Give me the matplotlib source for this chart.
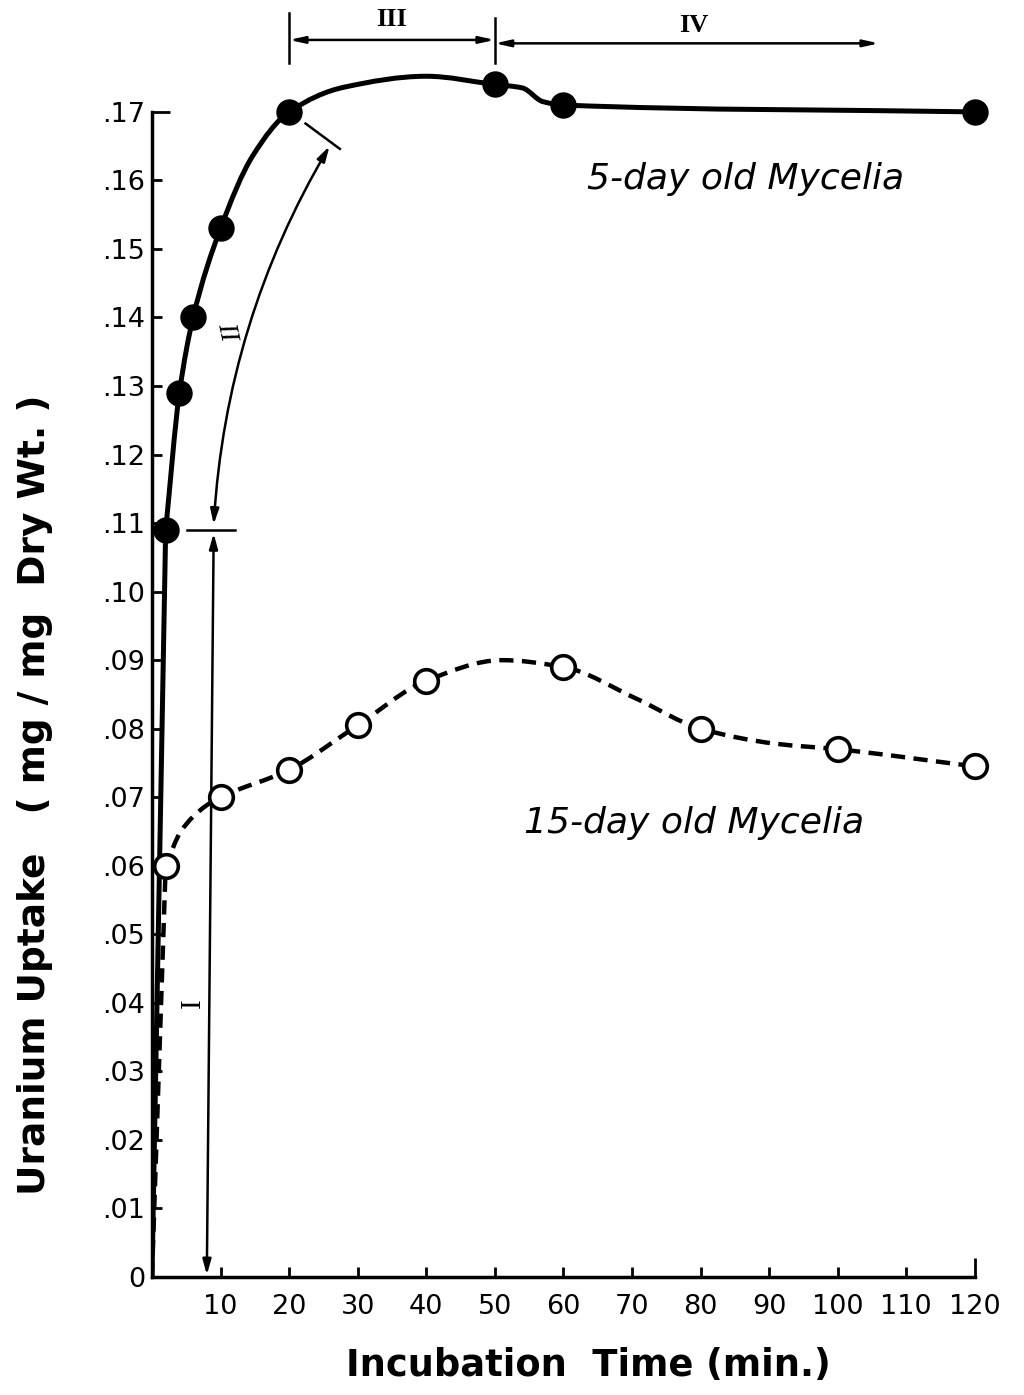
import numpy as np
import matplotlib.pyplot as plt
from matplotlib.path import Path
from matplotlib.patches import PathPatch

# Uranium uptake (mg / mg dry wt.) against incubation time (min.)
t5 = [2, 4, 6, 10, 20, 50, 60, 120]
u5 = [0.109, 0.129, 0.140, 0.153, 0.170, 0.174, 0.171, 0.170]
t15 = [2, 10, 20, 30, 40, 60, 80, 100, 120]
u15 = [0.060, 0.070, 0.074, 0.0805, 0.087, 0.089, 0.080, 0.077, 0.0745]

guide5_t = [14.7, 28, 40, 54, 57]
guide5_u = [0.1636, 0.1736, 0.1752, 0.1735, 0.1715]
guide15_t = [4.2, 7.8, 51, 70.6, 91]
guide15_u = [0.0650, 0.0687, 0.0900, 0.0844, 0.0778]

xticks = [10, 20, 30, 40, 50, 60, 70, 80, 90, 100, 110, 120]
yticks = [0, .01, .02, .03, .04, .05, .06, .07, .08, .09, .10, .11, .12, .13, .14, .15, .16, .17]
ytick_labels = ['0', '.01', '.02', '.03', '.04', '.05', '.06', '.07', '.08', '.09',
                '.10', '.11', '.12', '.13', '.14', '.15', '.16', '.17']

plt.rcParams['font.family'] = 'DejaVu Sans'


def curve_path(t, u, gt, gu):
    # straight rise from the origin, then a smooth y(x) curve (pchip-style slopes)
    x = np.concatenate([t, gt]).astype(float)
    y = np.concatenate([u, gu]).astype(float)
    order = np.argsort(x)
    x, y = x[order], y[order]
    h = np.diff(x)
    d = np.diff(y) / h
    m = np.zeros_like(x)
    m[0], m[-1] = d[0], d[-1]
    for i in range(1, len(x) - 1):
        if d[i - 1] * d[i] > 0:
            w1 = 2 * h[i] + h[i - 1]
            w2 = h[i] + 2 * h[i - 1]
            m[i] = (w1 + w2) / (w1 / d[i - 1] + w2 / d[i])
    verts = [(0, 0), (x[0], y[0])]
    codes = [Path.MOVETO, Path.LINETO]
    for i in range(len(x) - 1):
        verts += [(x[i] + h[i] / 3, y[i] + m[i] * h[i] / 3),
                  (x[i + 1] - h[i] / 3, y[i + 1] - m[i + 1] * h[i] / 3),
                  (x[i + 1], y[i + 1])]
        codes += [Path.CURVE4] * 3
    return Path(verts, codes)


fig = plt.figure(figsize=(10.24, 13.95), dpi=100)
ax = fig.add_axes([0.1484, 0.0846, 0.8438, 0.9138])
ax.set_xlim(0, 126)
ax.set_ylim(0, 0.186)

# curves
ax.add_patch(PathPatch(curve_path(t5, u5, guide5_t, guide5_u), fill=False,
                       lw=3.6, color='black', capstyle='round'))
ax.add_patch(PathPatch(curve_path(t15, u15, guide15_t, guide15_u), fill=False,
                       lw=3.2, color='black', linestyle=(0, (3.2, 1.9))))

ax.plot(t5, u5, 'o', ms=18, color='black', clip_on=False, zorder=5)
ax.plot(t15, u15, 'o', ms=17, mfc='white', mec='black', mew=2.6, clip_on=False, zorder=5)

# curve labels
ax.text(86.5, 0.1602, '5-day old Mycelia', fontsize=26, style='italic',
        ha='center', va='center')
ax.text(79.0, 0.0663, '15-day old Mycelia', fontsize=26, style='italic',
        ha='center', va='center')

# phase markings
akw = dict(color='black', lw=1.8, shrinkA=0, shrinkB=0)
ax.annotate('', xy=(8.0, 0.0003), xytext=(9.0, 0.1085),
            arrowprops=dict(arrowstyle='<|-|>,head_length=0.9,head_width=0.25', **akw))
ax.plot([5.1, 12.1], [0.109, 0.109], color='black', lw=1.8)
ax.text(6.0, 0.040, 'I', family='Liberation Serif', fontsize=21, rotation=90,
        ha='center', va='center')

ax.annotate('', xy=(25.9, 0.165), xytext=(9.0, 0.1098),
            arrowprops=dict(arrowstyle='<|-|>,head_length=0.9,head_width=0.25',
                            connectionstyle='arc3,rad=-0.12', **akw))
ax.plot([22.4, 27.4], [0.1683, 0.1646], color='black', lw=1.8)
ax.text(10.8, 0.138, 'II', family='Liberation Serif', fontsize=20, style='italic',
        rotation=-78, ha='center', va='center')

ax.plot([20, 20], [0.1772, 0.1844], color='black', lw=1.8, clip_on=False)
ax.plot([50, 50], [0.1772, 0.1837], color='black', lw=1.8, clip_on=False)
ax.annotate('', xy=(50, 0.1805), xytext=(20, 0.1805),
            arrowprops=dict(arrowstyle='<|-|>,head_length=0.9,head_width=0.2', **akw))
ax.annotate('', xy=(106, 0.1800), xytext=(50, 0.1800),
            arrowprops=dict(arrowstyle='<|-|>,head_length=0.9,head_width=0.2', **akw))
ax.text(35, 0.1835, 'III', family='Liberation Serif', fontsize=19, weight='bold',
        ha='center', va='center')
ax.text(79, 0.1826, 'IV', family='Liberation Serif', fontsize=19, weight='bold',
        ha='center', va='center')

# axes
for s in ['top', 'right']:
    ax.spines[s].set_visible(False)
ax.spines['left'].set_bounds(0, 0.17)
ax.spines['bottom'].set_bounds(0, 120)
ax.spines['left'].set_linewidth(2.5)
ax.spines['bottom'].set_linewidth(2.5)

ax.set_xticks(xticks)
ax.set_xticklabels([str(v) for v in xticks])
ax.set_yticks(yticks)
ax.set_yticklabels(ytick_labels)
ax.tick_params(direction='in', length=7, width=2, labelsize=19.5)
ax.tick_params(axis='x', pad=12)
ax.tick_params(axis='y', pad=5)
ax.yaxis.get_major_ticks()[-1].tick1line.set_markersize(13)
ax.xaxis.get_major_ticks()[-1].tick1line.set_markersize(14)

fig.text(588 / 1024, 1 - 1365 / 1395, 'Incubation  Time (min.)', fontsize=26.5,
         weight='bold', ha='center', va='center')
fig.text(35 / 1024, 1 - 795 / 1395, 'Uranium Uptake   ( mg / mg  Dry Wt. )',
         fontsize=27, weight='bold', rotation=90, ha='center', va='center')

fig.savefig('out.png', dpi=100)
